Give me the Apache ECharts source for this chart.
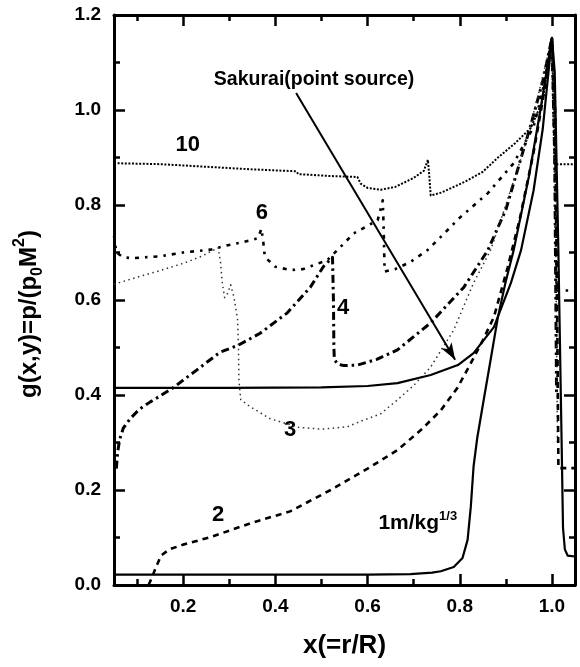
<!DOCTYPE html>
<html>
<head>
<meta charset="utf-8">
<script src="https://cdn.jsdelivr.net/npm/echarts@6/dist/echarts.min.js"></script>
<style>
  html, body { margin: 0; padding: 0; background: #fff; }
  #chart { width: 580px; height: 667px; }
</style>
</head>
<body>
<div id="chart"></div>
<script>
// Axis ticks
const xMajorTicks = [0.2, 0.4, 0.6, 0.8, 1.0];
const xMinorTicks = [0.1, 0.3, 0.5, 0.7, 0.9];

// Pressure profiles g(x, y) for several scaled distances, [x, g]
const curve1 = [[0.05,0.022],[0.2,0.022],[0.4,0.022],[0.6,0.022],[0.693,0.023],[0.74,0.026],[0.759,0.029],[0.787,0.038],[0.806,0.057],[0.817,0.095],[0.824,0.165],[0.83,0.25],[0.838,0.31],[0.852,0.39],[0.868,0.48],[0.883,0.565],[0.9,0.64],[0.917,0.705],[0.95,0.86],[0.975,1.0],[1.0,1.152],[1.006,1.08],[1.014,0.7],[1.021,0.3],[1.024,0.12],[1.028,0.075],[1.034,0.062],[1.05,0.06]];
const sakurai = [[0.05,0.415],[0.3,0.415],[0.5,0.416],[0.6,0.419],[0.665,0.425],[0.737,0.442],[0.796,0.463],[0.83,0.488],[0.874,0.543],[0.911,0.636],[0.933,0.705],[0.96,0.83],[0.98,0.96],[1.0,1.152]];
const curve2 = [[0.125,0.0],[0.132,0.015],[0.14,0.035],[0.152,0.062],[0.17,0.075],[0.2,0.085],[0.26,0.101],[0.346,0.13],[0.432,0.155],[0.52,0.2],[0.6,0.245],[0.665,0.284],[0.72,0.33],[0.759,0.368],[0.795,0.415],[0.824,0.467],[0.85,0.515],[0.874,0.564],[0.904,0.669],[0.93,0.77],[0.96,0.91],[0.98,1.02],[1.0,1.152],[1.007,1.0],[1.012,0.5],[1.014,0.246],[1.05,0.246]];
const curve3 = [[0.05,0.633],[0.1,0.648],[0.15,0.662],[0.2,0.677],[0.24,0.692],[0.276,0.71],[0.281,0.68],[0.285,0.635],[0.29,0.605],[0.297,0.615],[0.303,0.632],[0.31,0.607],[0.318,0.56],[0.32,0.5],[0.321,0.43],[0.325,0.39],[0.346,0.375],[0.389,0.35],[0.45,0.332],[0.5,0.328],[0.556,0.333],[0.591,0.347],[0.628,0.36],[0.665,0.39],[0.7,0.42],[0.737,0.459],[0.787,0.537],[0.83,0.636],[0.867,0.705],[0.9,0.8],[0.94,0.92],[0.97,1.03],[1.0,1.152],[1.006,0.95],[1.012,0.3]];
const curve4 = [[0.055,0.245],[0.058,0.28],[0.062,0.305],[0.07,0.33],[0.085,0.35],[0.105,0.37],[0.128,0.385],[0.15,0.398],[0.178,0.415],[0.23,0.453],[0.28,0.49],[0.32,0.505],[0.367,0.53],[0.426,0.573],[0.476,0.627],[0.504,0.67],[0.524,0.69],[0.526,0.6],[0.527,0.5],[0.528,0.475],[0.535,0.465],[0.548,0.462],[0.578,0.463],[0.62,0.475],[0.665,0.495],[0.737,0.552],[0.809,0.627],[0.861,0.705],[0.9,0.79],[0.954,0.968],[0.98,1.06],[1.0,1.152],[1.006,0.9],[1.01,0.4]];
const curve6 = [[0.05,0.735],[0.055,0.7],[0.07,0.69],[0.089,0.688],[0.15,0.692],[0.2,0.7],[0.259,0.706],[0.276,0.71],[0.3,0.716],[0.33,0.722],[0.362,0.73],[0.37,0.75],[0.374,0.72],[0.376,0.7],[0.38,0.688],[0.4,0.67],[0.433,0.663],[0.46,0.665],[0.513,0.684],[0.57,0.74],[0.622,0.768],[0.628,0.79],[0.633,0.81],[0.635,0.75],[0.637,0.66],[0.66,0.665],[0.693,0.68],[0.73,0.705],[0.802,0.775],[0.861,0.825],[0.917,0.888],[0.96,0.964],[0.98,1.04],[1.0,1.152],[1.006,0.9],[1.01,0.62],[1.05,0.62]];
const curve10 = [[0.05,0.888],[0.15,0.886],[0.259,0.88],[0.35,0.875],[0.445,0.871],[0.45,0.865],[0.52,0.861],[0.578,0.859],[0.585,0.845],[0.6,0.836],[0.628,0.832],[0.66,0.838],[0.7,0.857],[0.722,0.872],[0.731,0.895],[0.734,0.86],[0.737,0.82],[0.76,0.826],[0.809,0.848],[0.85,0.87],[0.883,0.9],[0.92,0.93],[0.954,0.962],[0.98,1.02],[1.0,1.152],[1.004,0.98],[1.006,0.886],[1.05,0.886]];

// Text annotations, anchored in data coordinates
const notes = [
  { text: '10', at: [0.21, 0.926], size: 22 },
  { text: '6', at: [0.371, 0.783], size: 22 },
  { text: '4', at: [0.547, 0.583], size: 22 },
  { text: '3', at: [0.432, 0.326], size: 22 },
  { text: '2', at: [0.276, 0.147], size: 22 },
  { text: 'Sakurai(point source)', at: [0.484, 1.063], size: 19.5 },
  { text: '{m|1m/kg}{e|1/3}', at: [0.709, 0.131], size: 21 }
];
const arrowFrom = [0.445, 1.036];
const arrowTo = [0.79, 0.474];

const FONT = '"Liberation Sans", Arial, sans-serif';
const ink = '#000';

function lineSeries(name, data, width, dash, color, cap) {
  return {
    name: name,
    type: 'line',
    data: data,
    showSymbol: false,
    symbol: 'none',
    silent: true,
    animation: false,
    lineStyle: { color: color || ink, width: width, type: dash || 'solid', cap: cap || 'butt', join: 'round' }
  };
}

function xAxisDef(position, ticks, len, showLine, showLabels, extra) {
  return Object.assign({
    type: 'value', min: 0.05, max: 1.05, position: position,
    axisLine: { show: showLine, onZero: false, lineStyle: { color: ink, width: 3 } },
    axisTick: { show: true, inside: true, length: len, customValues: ticks, lineStyle: { color: ink, width: 2.5 } },
    axisLabel: showLabels ? {
      show: true, customValues: ticks, formatter: v => v.toFixed(1),
      color: ink, fontFamily: FONT, fontWeight: 'bold', fontSize: 19, margin: 12
    } : { show: false },
    splitLine: { show: false }
  }, extra || {});
}

function yAxisDef(position, showLabels, extra) {
  return Object.assign({
    type: 'value', min: 0, max: 1.2, interval: 0.2, position: position,
    axisLine: { show: true, onZero: false, lineStyle: { color: ink, width: 3 } },
    axisTick: { show: true, inside: true, length: 11, lineStyle: { color: ink, width: 2.5 } },
    minorTick: { show: true, splitNumber: 2, length: 6, lineStyle: { color: ink, width: 2.5 } },
    axisLabel: showLabels ? {
      show: true, formatter: v => v.toFixed(1),
      color: ink, fontFamily: FONT, fontWeight: 'bold', fontSize: 19, margin: 13
    } : { show: false },
    splitLine: { show: false },
    minorSplitLine: { show: false }
  }, extra || {});
}

const chart = echarts.init(document.getElementById('chart'), null, { renderer: 'canvas' });

chart.setOption({
  backgroundColor: '#fff',
  animation: false,
  grid: { left: 114, right: 5, top: 15, bottom: 82, containLabel: false },
  xAxis: [
    xAxisDef('bottom', xMajorTicks, 11, true, true, {
      name: 'x(=r/R)', nameLocation: 'middle', nameGap: 48,
      nameTextStyle: { color: ink, fontFamily: FONT, fontWeight: 'bold', fontSize: 26 }
    }),
    xAxisDef('top', xMajorTicks, 11, true, false),
    xAxisDef('bottom', xMinorTicks, 6, false, false),
    xAxisDef('top', xMinorTicks, 6, false, false)
  ],
  yAxis: [
    yAxisDef('left', true, {
      name: '{a|g(x,y)=p/(p}{s|0}{a|M}{p|2}{a|)}',
      nameLocation: 'middle', nameRotate: 90, nameGap: 68,
      nameTextStyle: {
        color: ink, fontFamily: FONT, fontWeight: 'bold',
        padding: [0, 28, 0, 0],
        rich: {
          a: { fontSize: 24, fontWeight: 'bold', fontFamily: FONT, color: ink, lineHeight: 34, verticalAlign: 'middle' },
          s: { fontSize: 16, fontWeight: 'bold', fontFamily: FONT, color: ink, lineHeight: 16, verticalAlign: 'bottom' },
          p: { fontSize: 16, fontWeight: 'bold', fontFamily: FONT, color: ink, lineHeight: 16, verticalAlign: 'top' }
        }
      }
    }),
    yAxisDef('right', false)
  ],
  series: [
    lineSeries('10', curve10, 2, [2, 1.6], ink),
    lineSeries('6', curve6, 2.6, [4, 6, 2.5, 6], ink),
    lineSeries('4', curve4, 3, [8, 4, 2.5, 4], ink),
    lineSeries('3', curve3, 1.5, [1.5, 3.5], '#333'),
    lineSeries('2', curve2, 2.6, [6, 5], ink),
    lineSeries('Sakurai', sakurai, 2.2, 'solid', ink),
    Object.assign(lineSeries('1', curve1, 2.2, 'solid', ink), {
      markLine: {
        silent: true,
        animation: false,
        symbol: ['none', 'arrow'],
        symbolSize: [9, 17],
        label: { show: false },
        lineStyle: { color: ink, width: 2, type: 'solid' },
        data: [[{ coord: arrowFrom }, { coord: arrowTo }]]
      }
    })
  ]
});

// Place the curve labels through the grid's own coordinate conversion
chart.setOption({
  graphic: notes.map(n => {
    const p = chart.convertToPixel({ xAxisIndex: 0, yAxisIndex: 0 }, n.at);
    return {
      type: 'text',
      x: p[0], y: p[1],
      silent: true,
      style: {
        text: n.text,
        align: 'center',
        verticalAlign: 'middle',
        fill: ink,
        font: 'bold ' + n.size + 'px ' + FONT,
        rich: {
          m: { fontSize: 21, fontWeight: 'bold', fontFamily: FONT, fill: ink, lineHeight: 26, verticalAlign: 'middle' },
          e: { fontSize: 13, fontWeight: 'bold', fontFamily: FONT, fill: ink, lineHeight: 13, verticalAlign: 'top' }
        }
      }
    };
  })
});
</script>
</body>
</html>
